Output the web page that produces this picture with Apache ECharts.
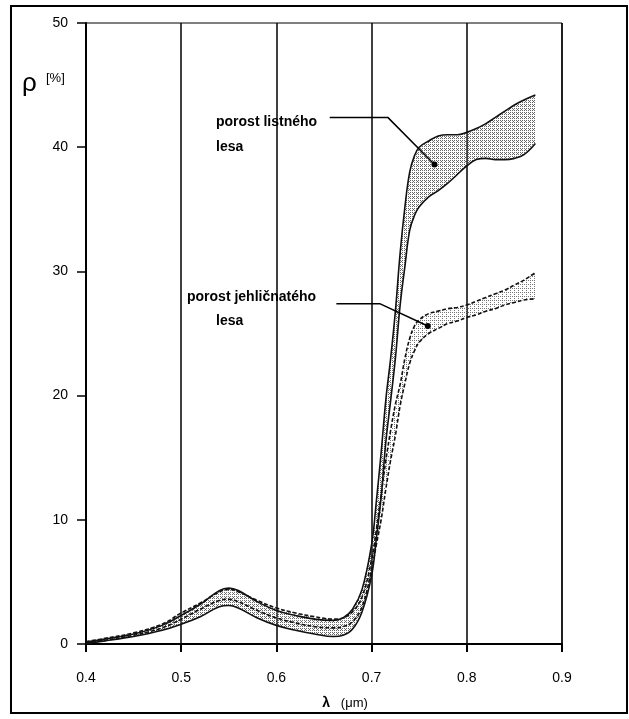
<!DOCTYPE html>
<html>
<head>
<meta charset="utf-8">
<script src="https://cdn.jsdelivr.net/npm/echarts@6/dist/echarts.min.js"></script>
<style>
html,body{margin:0;padding:0;background:#fff;}
#chart{width:629px;height:719px;}
</style>
</head>
<body>
<div id="chart"></div>
<script>
// wavelength samples (µm)
const wavelengths = [0.40,0.42,0.45,0.48,0.50,0.52,0.54,0.55,0.56,0.58,0.60,0.62,0.64,0.66,0.67,0.68,0.69,0.70,0.705,0.71,0.715,0.72,0.725,0.73,0.735,0.74,0.745,0.75,0.76,0.77,0.78,0.79,0.80,0.81,0.82,0.83,0.84,0.85,0.86,0.872];
// porost listného lesa (deciduous) – reflectance band limits [%]
const deciduousLow  = [0.05,0.25,0.6,1.1,1.6,2.2,3.0,3.1,2.9,2.1,1.5,1.1,0.8,0.6,0.7,1.2,2.6,5.5,8.5,11.8,16.3,19.6,23.0,27.3,30.4,33.3,34.5,35.2,36.0,36.5,37.1,37.8,38.5,39.0,39.1,39.0,39.0,39.1,39.4,40.3];
const deciduousHigh = [0.15,0.4,0.8,1.5,2.3,3.2,4.3,4.5,4.3,3.4,2.7,2.3,2.0,1.9,2.1,2.8,4.4,8.0,11.5,15.4,19.7,23.0,26.8,31.5,35.2,38.0,39.3,40.0,40.5,40.9,41.0,41.0,41.2,41.5,41.9,42.4,42.9,43.4,43.8,44.2];
// porost jehličnatého lesa (coniferous) – reflectance band limits [%]
const coniferLow  = [0.1,0.3,0.7,1.3,2.0,2.8,3.5,3.6,3.4,2.7,2.1,1.7,1.4,1.3,1.4,1.8,3.0,6.0,8.0,10.0,12.5,14.8,16.8,19.2,21.0,22.6,23.6,24.3,25.0,25.4,25.8,26.0,26.3,26.5,26.8,27.0,27.3,27.5,27.7,27.8];
const coniferHigh = [0.2,0.45,0.9,1.6,2.5,3.3,4.2,4.4,4.2,3.5,2.9,2.5,2.2,2.0,2.1,2.6,3.8,6.8,9.2,12.0,14.8,17.2,19.3,20.9,23.0,24.6,25.6,26.1,26.6,26.8,27.0,27.1,27.3,27.6,27.9,28.2,28.5,28.9,29.3,29.9];
// axis ticks
const xTicks = [0.4,0.5,0.6,0.7,0.8,0.9];
const yTicks = [0,10,20,30,40,50];
// annotation leader lines (data coordinates)
const leaderDeciduous = [[0.656,42.4],[0.717,42.4],[0.766,38.6]];
const leaderConifer   = [[0.663,27.4],[0.7085,27.4],[0.759,25.6]];

const pairs = (xs, ys) => xs.map((x, i) => [x, ys[i]]);
const leader = pts => pts.map((p, i) => i === pts.length - 1
  ? {value: p, symbol: 'circle', symbolSize: 6}
  : {value: p, symbol: 'none'});

// stipple texture like the printed original
function stipple(dots, color) {
  const c = document.createElement('canvas');
  c.width = 4; c.height = 4;
  const g = c.getContext('2d');
  g.fillStyle = color;
  dots.forEach(d => g.fillRect(d[0], d[1], 1, 1));
  return {image: c, repeat: 'repeat'};
}

// shaded band between two limit curves, positioned through the axes (api.coord)
function band(hi, lo, fill) {
  return {
    type: 'custom', silent: true, z: 1,
    data: [[wavelengths[0], lo[0]]],
    renderItem: function (params, api) {
      const pts = [];
      for (let i = 0; i < wavelengths.length; i++) pts.push(api.coord([wavelengths[i], hi[i]]));
      for (let i = wavelengths.length - 1; i >= 0; i--) pts.push(api.coord([wavelengths[i], lo[i]]));
      return {type: 'polygon', shape: {points: pts}, style: {fill: fill, stroke: null}};
    }
  };
}

const chart = echarts.init(document.getElementById('chart'), null, {renderer: 'canvas'});
const lineCol = '#111';
const font = 'Liberation Sans, Arial, sans-serif';

chart.setOption({
  animation: false,
  backgroundColor: '#fff',
  grid: {left: 86, right: 67, top: 23, bottom: 75, show: true, borderColor: '#000', borderWidth: 1, backgroundColor: 'transparent'},
  xAxis: {
    type: 'value', min: xTicks[0], max: xTicks[xTicks.length - 1], interval: 0.1,
    axisLine: {lineStyle: {color: '#000', width: 2}},
    axisTick: {show: true, length: 8, lineStyle: {color: '#000', width: 2}},
    axisLabel: {color: '#000', fontSize: 14, fontFamily: font, margin: 27, formatter: v => v.toFixed(1)},
    splitLine: {show: true, lineStyle: {color: '#000', width: 1.5}}
  },
  yAxis: {
    type: 'value', min: yTicks[0], max: yTicks[yTicks.length - 1], interval: 10,
    axisLine: {show: true, lineStyle: {color: '#000', width: 2}},
    axisTick: {show: true, length: 9, lineStyle: {color: '#000', width: 1.5}},
    axisLabel: {color: '#000', fontSize: 14, fontFamily: font, margin: 18},
    splitLine: {show: false}
  },
  series: [
    band(deciduousHigh, deciduousLow, stipple([[0,0],[2,0],[0,2],[2,2],[1,1]], '#666')),
    band(coniferHigh, coniferLow, stipple([[0,0],[2,2],[2,0]], '#777')),
    {type: 'line', name: 'conifer-low', data: pairs(wavelengths, coniferLow), smooth: 0.4, symbol: 'none',
     lineStyle: {color: lineCol, width: 1.6, type: [4, 2]}, z: 3},
    {type: 'line', name: 'conifer-high', data: pairs(wavelengths, coniferHigh), smooth: 0.4, symbol: 'none',
     lineStyle: {color: lineCol, width: 1.6, type: [4, 2]}, z: 3},
    {type: 'line', name: 'deciduous-low', data: pairs(wavelengths, deciduousLow), smooth: 0.4, symbol: 'none',
     lineStyle: {color: lineCol, width: 1.6}, z: 4},
    {type: 'line', name: 'deciduous-high', data: pairs(wavelengths, deciduousHigh), smooth: 0.4, symbol: 'none',
     lineStyle: {color: lineCol, width: 1.6}, z: 4},
    {type: 'line', name: 'leader-d', data: leader(leaderDeciduous), lineStyle: {color: '#000', width: 1.5},
     itemStyle: {color: '#000'}, z: 6},
    {type: 'line', name: 'leader-c', data: leader(leaderConifer), lineStyle: {color: '#000', width: 1.5},
     itemStyle: {color: '#000'}, z: 6}
  ],
  graphic: [
    {type: 'rect', shape: {x: 11, y: 6, width: 616, height: 707}, style: {fill: 'none', stroke: '#000', lineWidth: 2}, z: 100},
    {type: 'text', x: 22, y: 84, style: {text: 'ρ', font: '26px ' + font, fill: '#000', verticalAlign: 'middle'}},
    {type: 'text', x: 46, y: 78, style: {text: '[%]', font: '13px ' + font, fill: '#000', verticalAlign: 'middle'}},
    {type: 'text', x: 216, y: 122, style: {text: 'porost listného', font: 'bold 14px ' + font, fill: '#000', verticalAlign: 'middle'}},
    {type: 'text', x: 216, y: 147, style: {text: 'lesa', font: 'bold 14px ' + font, fill: '#000', verticalAlign: 'middle'}},
    {type: 'text', x: 187, y: 297, style: {text: 'porost jehličnatého', font: 'bold 14px ' + font, fill: '#000', verticalAlign: 'middle'}},
    {type: 'text', x: 216, y: 321, style: {text: 'lesa', font: 'bold 14px ' + font, fill: '#000', verticalAlign: 'middle'}},
    {type: 'text', x: 345, y: 703, style: {text: '{l|λ}   (μm)', font: '13px ' + font, fill: '#000', align: 'center', verticalAlign: 'middle',
      rich: {l: {fontWeight: 'bold', fontSize: 14, fontFamily: font}}}}
  ]
});
</script>
</body>
</html>
